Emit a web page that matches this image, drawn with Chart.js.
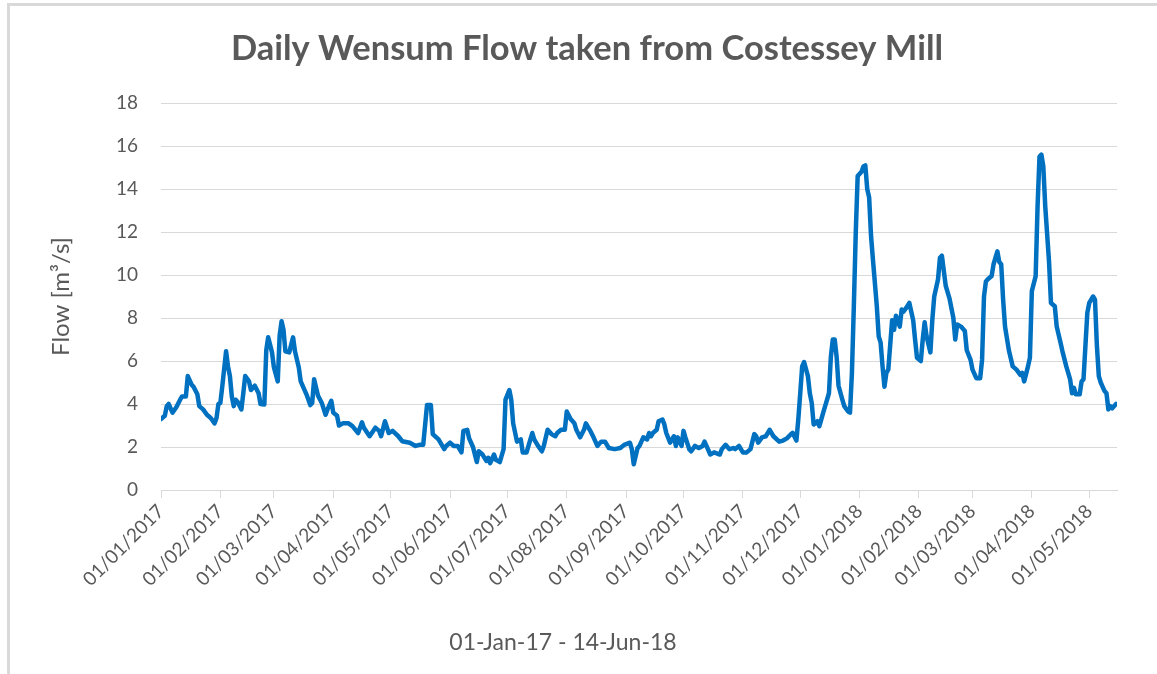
<!DOCTYPE html>
<html>
<head>
<meta charset="utf-8">
<title>Daily Wensum Flow</title>
<script src="https://cdn.jsdelivr.net/npm/chart.js@4.4.0/dist/chart.umd.min.js"></script>
<style>
    html, body { margin: 0; padding: 0; background: #ffffff; overflow: hidden; }
    .frame {
        position: absolute; left: 7px; top: 3px;
        width: 1300px; height: 800px;
        border: 3px solid #d9d9d9;
    }
    #flowChart { position: absolute; left: 0; top: 0; }
</style>
</head>
<body>
<div class="frame"></div>
<canvas id="flowChart" width="1157" height="674"></canvas>
<script>
const chartTitle = 'Daily Wensum Flow taken from Costessey Mill';
const yAxisTitle = 'Flow [m³/s]';
const xAxisCaption = '01-Jan-17 - 14-Jun-18';

// first day of the series, day numbers below count from here
const startDate = '01/01/2017';

// month labels on the date axis
const monthTicks = [
    '01/01/2017', '01/02/2017', '01/03/2017', '01/04/2017', '01/05/2017', '01/06/2017',
    '01/07/2017', '01/08/2017', '01/09/2017', '01/10/2017', '01/11/2017', '01/12/2017',
    '01/01/2018', '01/02/2018', '01/03/2018', '01/04/2018', '01/05/2018'
];

// days since 01/01/2017 (grouped by month, same grouping as flowValues)
const flowDays = [
    0, 2, 3, 4, 6, 8, 10, 11, 13, 14, 16, 17, 19, 20, 22, 24, 26, 28, 29, 30,
    31, 32, 34, 35, 36, 37, 38, 39, 40, 42, 43, 44, 46, 47, 49, 51, 52, 54, 55, 56, 58,
    59, 61, 62, 63, 64, 65, 67, 69, 70, 72, 73, 76, 78, 79, 80, 82, 84, 86, 87, 89,
    90, 92, 93, 95, 98, 100, 103, 105, 106, 109, 112, 114, 115, 117, 119,
    121, 124, 126, 130, 133, 135, 137, 139, 141, 142, 145, 146, 148, 149,
    151, 153, 155, 157, 158, 160, 161, 163, 165, 166, 168, 170, 171, 172, 174, 175, 177, 179, 180,
    182, 183, 184, 186, 188, 189, 191, 193, 194, 195, 197, 199, 200, 202, 204, 206, 207, 209, 211,
    212, 214, 216, 217, 219, 221, 222, 224, 226, 228, 230, 232, 234, 237, 240, 242,
    245, 246, 247, 249, 250, 252, 254, 255, 256, 257, 259, 260, 262, 263, 264, 266, 268, 269, 270, 272,
    273, 274, 276, 277, 279, 281, 283, 284, 285, 287, 289, 292, 293, 295, 297, 299, 300, 302,
    304, 306, 308, 310, 311, 312, 314, 316, 318, 320, 323, 325, 327, 329, 330, 332, 333,
    334, 335, 336, 338, 339, 340, 341, 342, 343, 344, 346, 347, 349, 350, 351, 352, 353, 354, 356, 357, 359, 360, 361, 362, 363, 364,
    366, 367, 368, 369, 370, 371, 372, 374, 375, 376, 377, 378, 379, 380, 382, 383, 384, 386, 387, 388, 390, 391, 393, 394, 395,
    397, 398, 399, 400, 402, 403, 404, 406, 407, 408, 410, 411, 412, 414, 415, 416, 418, 420, 421, 423,
    424, 426, 428, 429, 430, 431, 432, 434, 435, 437, 438, 439, 440, 441, 443, 445, 447, 449, 450, 451, 453, 454,
    455, 457, 458, 459, 460, 461, 462, 464, 465, 467, 468, 470, 471, 473, 475, 476, 477, 478, 480, 481, 482, 483, 484,
    485, 487, 488, 489, 490, 491, 493, 494, 495, 496, 497, 499
];

// flow in m3/s
const flowValues = [
    3.3, 3.45, 3.9, 4.0, 3.6, 3.85, 4.2, 4.35, 4.35, 5.3, 4.9, 4.8, 4.45, 3.9, 3.75, 3.5, 3.35, 3.1, 3.35, 4.0,
    4.05, 4.8, 6.45, 5.75, 5.3, 4.35, 3.9, 4.2, 4.1, 3.75, 4.5, 5.3, 5.05, 4.65, 4.85, 4.5, 4.0, 3.98, 6.5, 7.1, 6.4,
    5.7, 5.05, 7.2, 7.85, 7.45, 6.45, 6.4, 7.1, 6.45, 5.7, 5.05, 4.45, 3.95, 4.05, 5.15, 4.4, 4.05, 3.5, 3.75, 4.15,
    3.6, 3.45, 3.0, 3.1, 3.1, 2.97, 2.65, 3.15, 2.9, 2.5, 2.9, 2.75, 2.5, 3.2, 2.65,
    2.75, 2.5, 2.27, 2.2, 2.05, 2.1, 2.1, 3.95, 3.95, 2.6, 2.35, 2.2, 1.9, 2.05,
    2.2, 2.05, 2.05, 1.75, 2.75, 2.8, 2.4, 2.0, 1.3, 1.8, 1.65, 1.35, 1.5, 1.25, 1.65, 1.4, 1.3, 1.9, 4.2,
    4.65, 4.2, 3.1, 2.25, 2.35, 1.75, 1.75, 2.35, 2.65, 2.35, 2.05, 1.8, 2.05, 2.8, 2.6, 2.5, 2.65, 2.8, 2.8,
    3.65, 3.3, 3.1, 2.8, 2.45, 2.8, 3.1, 2.8, 2.45, 2.05, 2.25, 2.25, 1.95, 1.9, 1.95, 2.1,
    2.2, 1.9, 1.2, 1.95, 2.05, 2.45, 2.35, 2.65, 2.5, 2.65, 2.8, 3.2, 3.28, 3.05, 2.65, 2.2, 2.5, 2.05, 2.45, 2.05,
    2.75, 2.45, 1.9, 1.8, 2.05, 1.95, 2.05, 2.25, 2.05, 1.65, 1.75, 1.65, 1.9, 2.1, 1.9, 1.95, 1.9, 2.05,
    1.75, 1.75, 1.9, 2.6, 2.5, 2.2, 2.45, 2.5, 2.8, 2.5, 2.25, 2.3, 2.4, 2.58, 2.66, 2.3, 3.3,
    4.5, 5.75, 5.95, 5.3, 4.5, 4.05, 3.05, 3.1, 3.2, 2.97, 3.6, 3.9, 4.5, 6.2, 7.0, 7.0, 6.2, 4.85, 4.2, 3.9, 3.65, 3.6, 5.45, 8.55, 11.95, 14.6,
    14.8, 15.05, 15.1, 14.0, 13.6, 11.8, 10.7, 8.55, 7.15, 6.85, 5.75, 4.8, 5.45, 5.6, 7.9, 7.45, 8.1, 7.6, 8.4, 8.3, 8.55, 8.7, 7.9, 7.0, 6.15,
    6.0, 7.0, 7.8, 7.15, 6.4, 7.9, 9.0, 9.8, 10.8, 10.9, 9.5, 9.2, 8.9, 8.0, 7.0, 7.7, 7.6, 7.4, 6.5, 6.05,
    5.6, 5.2, 5.2, 6.05, 9.0, 9.7, 9.8, 9.95, 10.5, 11.1, 10.6, 10.5, 8.85, 7.6, 6.5, 5.75, 5.6, 5.35, 5.45, 5.05, 5.75, 6.15,
    9.25, 9.95, 13.2, 15.5, 15.6, 15.05, 13.2, 10.6, 8.7, 8.55, 7.6, 6.85, 6.45, 5.75, 5.15, 4.5, 4.75, 4.45, 4.45, 5.05, 5.15, 6.7, 8.25,
    8.7, 9.0, 8.85, 6.7, 5.3, 5.0, 4.6, 4.5, 3.75, 3.9, 3.8, 4.0
];

const lastDay = 499.5;

const textColor = '#595959';
const gridColor = '#d9d9d9';
const lineColor = '#0070c0';
const fontFamily = "Lato, 'Open Sans', sans-serif";

/**
 * dd/mm/yyyy -> days since startDate
 */
function dayNumber(label) {
    const toUtc = s => {
        const [d, m, y] = s.split('/').map(Number);
        return Date.UTC(y, m - 1, d);
    };
    return Math.round((toUtc(label) - toUtc(startDate)) / 86400000);
}

const tickDays = monthTicks.map(dayNumber);

// Draws the caption under the date axis (sits left of the plot centre in the original)
const captionPlugin = {
    id: 'caption',
    afterDraw(chart, args, opts) {
        const { ctx } = chart;
        ctx.save();
        ctx.font = `${opts.size}px ${fontFamily}`;
        ctx.fillStyle = textColor;
        ctx.textAlign = 'center';
        ctx.textBaseline = 'middle';
        ctx.fillText(opts.text, opts.x, opts.y);
        ctx.restore();
    }
};

const ctx = document.getElementById('flowChart');

new Chart(ctx, {
    type: 'line',
    data: {
        datasets: [{
            label: 'Flow',
            data: flowDays.map((d, i) => ({ x: d, y: flowValues[i] })),
            borderColor: lineColor,
            backgroundColor: lineColor,
            borderWidth: 4.5,
            borderJoinStyle: 'round',
            borderCapStyle: 'round',
            pointRadius: 0,
            tension: 0,
            fill: false
        }]
    },
    options: {
        responsive: false,
        animation: false,
        devicePixelRatio: 1,
        layout: {
            padding: { left: 17, right: 0, top: 0, bottom: 44 }
        },
        plugins: {
            legend: { display: false },
            tooltip: { enabled: false },
            title: {
                display: true,
                text: chartTitle,
                color: textColor,
                font: { family: fontFamily, size: 34.5, weight: 'bold' },
                padding: { top: 28, bottom: 33.6 }
            },
            caption: { text: xAxisCaption, x: 563, y: 643, size: 23 }
        },
        scales: {
            x: {
                type: 'linear',
                min: 0,
                max: lastDay,
                afterBuildTicks: (scale) => {
                    scale.ticks = tickDays.map(v => ({ value: v }));
                },
                afterFit: (scale) => {
                    scale.height = 140;
                    scale.paddingRight = 40;
                },
                ticks: {
                    autoSkip: false,
                    minRotation: 45,
                    maxRotation: 45,
                    padding: 2,
                    color: textColor,
                    font: { family: fontFamily, size: 19 },
                    callback: (value, index) => monthTicks[index]
                },
                grid: {
                    drawOnChartArea: false,
                    drawTicks: true,
                    tickLength: 8,
                    color: gridColor
                },
                border: { color: gridColor, width: 1 }
            },
            y: {
                min: 0,
                max: 18,
                afterFit: (scale) => {
                    scale.width = 144;
                },
                ticks: {
                    stepSize: 2,
                    padding: 23,
                    color: textColor,
                    font: { family: fontFamily, size: 19 }
                },
                grid: {
                    color: gridColor,
                    drawTicks: false
                },
                border: { display: false },
                title: {
                    display: true,
                    text: yAxisTitle,
                    color: textColor,
                    font: { family: fontFamily, size: 24 },
                    padding: { top: 30 }
                }
            }
        }
    },
    plugins: [captionPlugin]
});
</script>
</body>
</html>
